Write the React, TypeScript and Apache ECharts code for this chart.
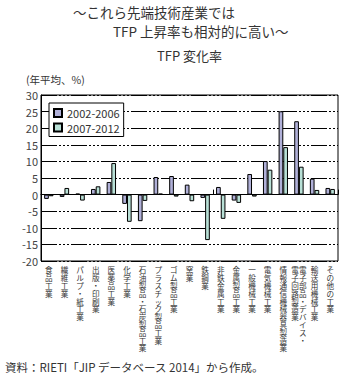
import React, { useEffect, useRef } from "react";
import * as echarts from "echarts";

const categories = [
  "食品工業",
  "繊維工業",
  "パルプ・紙工業",
  "出版・印刷業",
  "医薬品工業",
  "化学工業",
  "石油製品・石炭製品工業",
  "プラスチック製品工業",
  "ゴム製品工業",
  "窯業",
  "鉄鋼業",
  "非鉄金属工業",
  "金属製品工業",
  "一般機械工業",
  "電気機械工業",
  "情報通信機械器具製造業",
  "電子部品・デバイス・\n電子回路製造業",
  "輸送用機械工業",
  "その他の工業",
];

const series2002 = [-1.3, -0.7, 0.3, 1.7, 3.8, -2.8, -8.0, 5.3, 5.6, 3.0, -1.0, 2.3, -1.8, 6.2, 10.1, 25.1, 22.1, 4.8, 2.0];
const series2007 = [-0.5, 2.0, -1.8, 2.5, 9.5, -8.2, -1.9, 0.3, -0.6, -2.0, -13.7, -7.3, -2.5, -0.6, 7.5, 14.3, 8.4, 1.4, 1.7];

const seriesNames = ["2002-2006", "2007-2012"];
const yTicks = { min: -20, max: 30, interval: 5 };

const FONT = "'Noto Sans CJK JP', 'Noto Sans', sans-serif";

function verticalLabel(name: string): string {
  // columns are read right-to-left in vertical Japanese
  const cols = name.split("\n").map((c) => Array.from(c));
  const rows = Math.max(...cols.map((c) => c.length));
  const ordered = cols.slice().reverse();
  const lines: string[] = [];
  for (let r = 0; r < rows; r++) {
    lines.push(ordered.map((c) => (r < c.length ? c[r] : "　")).join(""));
  }
  return lines.join("\n");
}

export default function App() {
  const ref = useRef<HTMLDivElement>(null);
  useEffect(() => {
    if (!ref.current) return;
    const chart = echarts.init(ref.current, undefined, { renderer: "svg" });
    chart.setOption({
      animation: false,
      backgroundColor: "#fff",
      textStyle: { fontFamily: FONT },
      grid: {
        left: 41,
        right: 8,
        top: 95,
        bottom: 117,
        show: true,
        borderColor: "#000",
        borderWidth: 1,
      },
      legend: {
        orient: "vertical",
        left: 49,
        top: 103,
        data: seriesNames,
        borderColor: "#000",
        borderWidth: 1,
        backgroundColor: "#fff",
        padding: [4, 4, 3, 4],
        itemWidth: 8,
        itemHeight: 8,
        itemGap: 2.5,
        icon: "rect",
        textStyle: { fontSize: 11, color: "#333", lineHeight: 12, fontFamily: FONT },
      },
      xAxis: [
        {
          type: "category",
          data: categories,
          position: "bottom",
          axisLine: { show: false, onZero: false },
          axisTick: { show: false },
          splitLine: { show: false },
          axisLabel: {
            interval: 0,
            margin: 5,
            fontSize: 7.6,
            lineHeight: 7.8,
            color: "#333",
            fontFamily: FONT,
            verticalAlign: "top",
            formatter: (v: string) => verticalLabel(v),
          },
        },
        {
          type: "category",
          data: categories,
          position: "bottom",
          axisLine: { show: true, onZero: true, onZeroAxisIndex: 0, lineStyle: { color: "#000", width: 1 } },
          axisTick: { show: true, inside: true, length: 5, lineStyle: { color: "#000", width: 1 } },
          axisLabel: { show: false },
          splitLine: { show: false },
        },
      ],
      yAxis: {
        type: "value",
        min: yTicks.min,
        max: yTicks.max,
        interval: yTicks.interval,
        axisLine: { show: true, lineStyle: { color: "#000" } },
        axisTick: { show: false },
        axisLabel: { fontSize: 11, color: "#444", margin: 3, fontFamily: FONT },
        splitLine: {
          show: true,
          lineStyle: { color: "#000", width: 1, type: [16, 2, 2, 2, 2, 2, 2, 2] },
        },
      },
      series: [
        {
          name: seriesNames[0],
          type: "bar",
          xAxisIndex: 0,
          data: series2002,
          barGap: "0%",
          barCategoryGap: "40%",
          itemStyle: { color: "#b0b0d8", borderColor: "#000", borderWidth: 1 },
        },
        {
          name: seriesNames[1],
          type: "bar",
          xAxisIndex: 0,
          data: series2007,
          barGap: "0%",
          barCategoryGap: "40%",
          itemStyle: { color: "#b8e0d6", borderColor: "#000", borderWidth: 1 },
        },
      ],
      graphic: [
        { type: "text", left: 73, top: 5, style: { text: "〜これら先端技術産業では", fontSize: 13.5, fill: "#333", fontFamily: FONT } },
        { type: "text", left: 113, top: 24, style: { text: "TFP 上昇率も相対的に高い〜", fontSize: 13.5, fill: "#333", fontFamily: FONT } },
        { type: "text", left: 157, top: 49, style: { text: "TFP 変化率", fontSize: 13, fill: "#333", fontFamily: FONT } },
        { type: "text", left: 26, top: 74, style: { text: "(年平均、%)", fontSize: 10.5, fill: "#333", fontFamily: FONT } },
        { type: "text", left: 5, top: 361, style: { text: "資料：RIETI「JIP データベース 2014」から作成。", fontSize: 11.5, fill: "#333", fontFamily: FONT } },
      ],
    });
    return () => chart.dispose();
  }, []);
  return <div ref={ref} style={{ width: 346, height: 378, position: "absolute", left: 0, top: 0 }} />;
}
